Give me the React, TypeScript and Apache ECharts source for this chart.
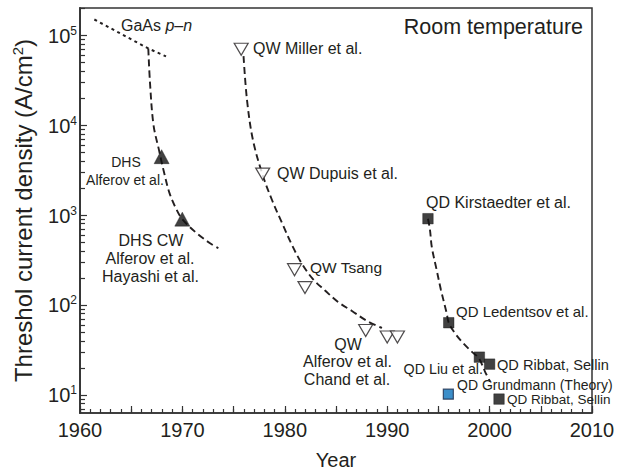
import React, { useEffect, useRef } from 'react';
import * as echarts from 'echarts';

// ---- data (year, threshold current density in A/cm^2) ----
const yearMin = 1960;
const yearMax = 2010;
const densityMin = 6.3;
const densityMax = 2e5;
const xTickYears = [1960, 1965, 1970, 1975, 1980, 1985, 1990, 1995, 2000, 2005, 2010];
const yDecadeExponents = [1, 2, 3, 4, 5];
const yMinorMantissas = [2, 3, 4, 5, 6, 7, 8, 9];

const gaasLine = [[1961.4, 149000], [1966.67, 71000], [1968.4, 58000]];
const dhsCurve = [
  [1966.67, 71000], [1966.84, 29000], [1967.18, 10000], [1967.71, 5300], [1968.2, 3000],
  [1968.75, 1740], [1969.44, 1140], [1969.99, 900], [1971.4, 627], [1972.7, 485], [1973.51, 427],
];
const qwCurve = [
  [1975.97, 58400], [1976.31, 18960], [1976.89, 6810], [1977.84, 2780], [1978.75, 1468],
  [1979.73, 815], [1980.7, 464], [1981.68, 286], [1982.75, 194], [1983.93, 145],
  [1985.2, 108], [1986.56, 85.8], [1988.03, 66.4], [1989.49, 55.5],
];
const qdCurve = [
  [1993.98, 910], [1994.18, 681], [1994.35, 445], [1994.83, 245], [1995.25, 147],
  [1995.81, 81], [1996.01, 63.5], [1996.62, 48.5], [1997.43, 37.5], [1998.25, 30.3],
  [1998.93, 25.8], [1999.55, 18.2], [2000.04, 14.1],
];
const dhsPoints = [[1967.97, 4450], [1969.99, 900]];
const qwPoints = [
  [1975.74, 69500], [1977.84, 2850], [1980.95, 247], [1981.97, 156],
  [1987.9, 52], [1990.0, 44], [1991.0, 44],
];
const qdPoints = [[1993.98, 910], [1996.01, 63.5], [1999.0, 26.3], [2000.0, 22], [2000.92, 9.0]];
const qdTheoryPoints = [[1995.97, 10.2]];

const FONT = '"Liberation Sans", Arial, Helvetica, sans-serif';
const INK = '#231f20';

const toLog = (pts: number[][]) => pts.map((p) => [p[0], Math.log10(p[1])]);

export default function App() {
  const ref = useRef<HTMLDivElement>(null);

  useEffect(() => {
    if (!ref.current) return;
    const chart = echarts.init(ref.current, undefined, { renderer: 'svg' });
    const yMin = Math.log10(densityMin);
    const yMax = Math.log10(densityMax);
    const yMinor: number[] = [];
    for (let k = 0; k <= 5; k++) {
      for (const m of yMinorMantissas) {
        const v = Math.log10(m * Math.pow(10, k));
        if (v >= yMin && v <= yMax + 1e-9) yMinor.push(v);
      }
    }
    const xMinor: number[] = [];
    for (let y = yearMin; y <= yearMax; y++) xMinor.push(y);

    const txt = (text: string, x: number, y: number, align: string, size: number, extra: any = {}) => ({
      type: 'text',
      x,
      y,
      silent: true,
      z: 100,
      style: {
        text,
        fill: INK,
        fontFamily: FONT,
        fontSize: size,
        align,
        verticalAlign: 'middle',
        ...extra,
      },
    });

    const curveStyle = { color: INK, width: 1.9, type: [7, 4] };

    const option: any = {
      animation: false,
      backgroundColor: '#ffffff',
      grid: {
        left: 80, top: 8, width: 512, height: 405,
        show: true, borderColor: '#333', borderWidth: 1.5, backgroundColor: 'transparent',
      },
      xAxis: [
        {
          type: 'value', min: yearMin, max: yearMax, interval: 10, position: 'bottom',
          axisLine: { lineStyle: { color: '#333', width: 1.5 } },
          axisTick: { inside: true, length: 7, customValues: xTickYears, lineStyle: { color: '#333', width: 1.2 } },
          axisLabel: { fontSize: 20, color: INK, margin: 7, fontFamily: FONT, formatter: (v: number) => String(v) },
          splitLine: { show: false },
          name: 'Year', nameLocation: 'middle', nameGap: 37,
          nameTextStyle: { fontSize: 20, color: INK, fontFamily: FONT },
        },
        {
          type: 'value', min: yearMin, max: yearMax, interval: 10, position: 'bottom',
          axisLine: { show: false },
          axisTick: { inside: true, length: 4, customValues: xMinor, lineStyle: { color: '#333', width: 1.2 } },
          axisLabel: { show: false },
          splitLine: { show: false },
        },
      ],
      yAxis: [
        {
          type: 'value', min: yMin, max: yMax,
          axisLine: { show: true, lineStyle: { color: '#333', width: 1.8 } },
          axisTick: { inside: true, length: 7, customValues: yDecadeExponents, lineStyle: { color: '#333', width: 1.2 } },
          axisLabel: {
            customValues: yDecadeExponents,
            margin: 3,
            formatter: (v: number) => `{b|10}{s|${Math.round(v)}}`,
            rich: {
              b: { fontSize: 20, color: INK, fontFamily: FONT, verticalAlign: 'bottom' },
              s: { fontSize: 12, color: INK, fontFamily: FONT, verticalAlign: 'bottom', padding: [0, 0, 9, 0] },
            },
          },
          splitLine: { show: false },
          name: 'Threshol current density (A/cm{s|2})',
          nameLocation: 'middle', nameGap: 44, nameRotate: 90,
          nameTextStyle: {
            fontSize: 24, color: INK, fontFamily: FONT,
            rich: {
              s: { fontSize: 15, color: INK, fontFamily: FONT, verticalAlign: 'bottom', padding: [0, 0, 11, 0] },
            },
          },
        },
        {
          type: 'value', min: yMin, max: yMax, position: 'left',
          axisLine: { show: false },
          axisTick: { inside: true, length: 5, customValues: yMinor, lineStyle: { color: '#333', width: 1.2 } },
          axisLabel: { show: false },
          splitLine: { show: false },
        },
      ],
      series: [
        {
          type: 'line', data: toLog(gaasLine), showSymbol: false, symbol: 'none',
          lineStyle: { color: INK, width: 2, type: [3, 3.5] }, silent: true,
        },
        {
          type: 'line', data: toLog(dhsCurve), smooth: 0.35, symbol: 'none',
          lineStyle: curveStyle, silent: true,
        },
        {
          type: 'line', data: toLog(qwCurve), smooth: 0.35, symbol: 'none',
          lineStyle: curveStyle, silent: true,
        },
        {
          type: 'line', data: toLog(qdCurve), smooth: 0.35, symbol: 'none',
          lineStyle: curveStyle, silent: true,
        },
        {
          type: 'scatter', data: toLog(dhsPoints), symbol: 'triangle', symbolSize: [15, 14],
          itemStyle: { color: '#111', borderColor: '#111', borderWidth: 0.5 }, z: 5,
        },
        {
          type: 'scatter', data: toLog(qwPoints), symbol: 'triangle', symbolSize: [14, 12], symbolRotate: 180,
          itemStyle: { color: '#ffffff', borderColor: INK, borderWidth: 1.2 }, z: 5,
        },
        {
          type: 'scatter', data: toLog(qdPoints), symbol: 'rect', symbolSize: 10.5,
          itemStyle: { color: '#111', borderColor: '#111', borderWidth: 0.5 }, z: 5,
        },
        {
          type: 'scatter', data: toLog(qdTheoryPoints), symbol: 'rect', symbolSize: 10,
          itemStyle: { color: '#0b72bb', borderColor: '#1b2a4a', borderWidth: 1.2 }, z: 5,
        },
      ],
      graphic: [
        txt('GaAs {i|p–n}', 121, 25, 'left', 16, { rich: { i: { fontStyle: 'italic', fontSize: 16, fontFamily: FONT, fill: INK } } }),
        txt('Room temperature', 583, 27, 'right', 21.5),
        txt('QW Miller et al.', 253, 48, 'left', 16),
        txt('DHS', 126, 162, 'center', 14),
        txt('Alferov et al.', 125, 180, 'center', 14),
        txt('QW Dupuis et al.', 277, 173, 'left', 16),
        txt('QD Kirstaedter et al.', 426, 202, 'left', 16),
        txt('DHS CW', 151, 240, 'center', 16),
        txt('Alferov et al.', 150, 258, 'center', 16),
        txt('Hayashi et al.', 150.5, 276.5, 'center', 16),
        txt('QW Tsang', 310, 267, 'left', 15.5),
        txt('QD Ledentsov et al.', 456, 311, 'left', 15),
        txt('QW', 348, 344, 'center', 16),
        txt('Alferov et al.', 347.5, 361.5, 'center', 16),
        txt('Chand et al.', 347, 379, 'center', 16),
        txt('QD Ribbat, Sellin', 497, 365, 'left', 14.6),
        txt('QD Liu et al.', 483, 369, 'right', 14.3),
        txt('QD Grundmann (Theory)', 457, 385, 'left', 14),
        txt('QD Ribbat, Sellin', 507, 399, 'left', 13.5),
      ],
    };
    chart.setOption(option);
    return () => chart.dispose();
  }, []);

  return (
    <div
      ref={ref}
      style={{ position: 'fixed', left: 0, top: 0, width: 622, height: 475, background: '#fff' }}
    />
  );
}
